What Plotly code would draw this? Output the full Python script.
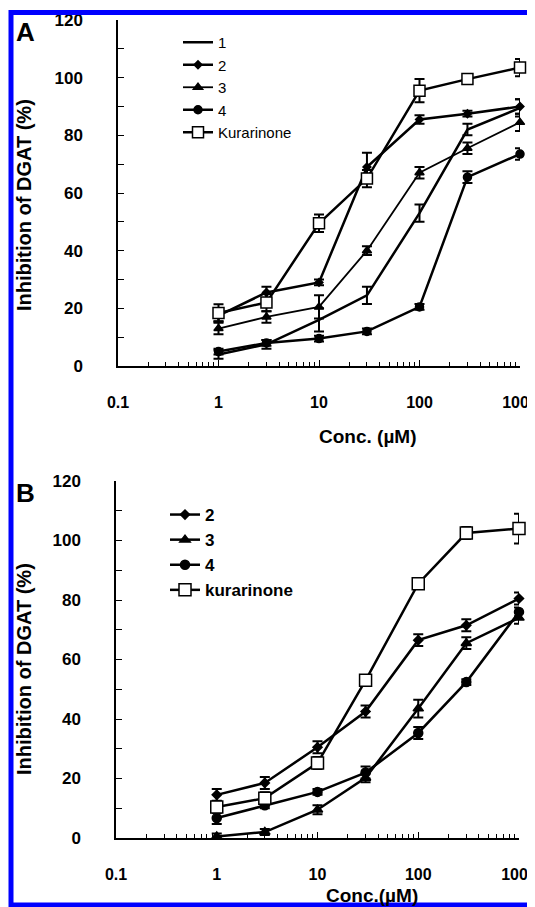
import plotly.graph_objects as go

# ---------------- data ----------------
conc = [1, 3, 10, 30, 100, 300, 1000]
x_tick_vals = [0.1, 1, 10, 100, 1000]
x_tick_text = ["0.1", "1", "10", "100", "1000"]

# Panel A
a_names = ["1", "2", "3", "4", "Kurarinone"]
a_c1 = [4, 7.5, 16, 24.5, 53, 82, 89.5]
a_c1_err = [1.5, 1.5, 4, 3, 3, 2, 3]
a_c2 = [17.5, 25.5, 29, 69, 85.5, 87.5, 90]
a_c2_err = [2, 2, 1, 5, 1.5, 1, 2.5]
a_c3 = [13, 17, 20.5, 40, 67, 75.5, 84.5]
a_c3_err = [2, 2, 4, 1.5, 2, 2, 3]
a_c4 = [5, 8, 9.5, 12, 20.5, 65.5, 73.5]
a_c4_err = [1, 1, 1, 1, 1, 2, 2]
a_kur = [18.4, 22, 49.5, 65, 95.5, 99.5, 103.5]
a_kur_err = [3, 3, 3, 3, 4, 1.5, 3]

# Panel B
b_names = ["2", "3", "4", "kurarinone"]
b_c2 = [14.5, 18.5, 30.5, 42.5, 66.5, 71.5, 80.5]
b_c2_err = [2, 2, 2, 2, 2, 2, 2]
b_c3 = [0.5, 2, 9.5, 20.2, 43.5, 65.5, 74]
b_c3_err = [1, 1, 1.5, 1.5, 3, 2, 2]
b_c4 = [6.7, 11, 15.5, 22, 35.3, 52.4, 76]
b_c4_err = [2, 1, 1, 2, 2, 1, 1.5]
b_kur = [10.4, 13.4, 25.2, 53, 85.5, 102.5, 104]
b_kur_err = [2, 2, 2, 1, 1, 2, 5]

FONT = "Arial, Liberation Sans, sans-serif"

# page body has an 8px margin: the figure is laid out in page pixels minus 8
OFF = 8
W, H = 535 - OFF, 907 - OFF

def px(x):
    return (x - OFF) / W

def py(y):
    return 1 - (y - OFF) / H

fig = go.Figure()

def add(xaxis, yaxis, y, err, name, symbol, msize, lw, legend, open_=False):
    fig.add_trace(go.Scatter(
        x=conc, y=y, name=name, xaxis=xaxis, yaxis=yaxis, legend=legend,
        mode="lines+markers" if symbol else "lines",
        line=dict(color="black", width=lw),
        marker=dict(symbol=symbol or "circle", size=msize,
                    color="white" if open_ else "black",
                    line=dict(color="black", width=1.5)),
        error_y=dict(type="data", array=err, visible=True, color="black",
                     thickness=2, width=5),
        cliponaxis=False,
    ))

# Panel A traces
add("x", "y", a_c1, a_c1_err, a_names[0], None, 0, 2.5, "legend")
add("x", "y", a_c2, a_c2_err, a_names[1], "diamond", 6, 2.5, "legend")
add("x", "y", a_c3, a_c3_err, a_names[2], "triangle-up", 8, 1.8, "legend")
add("x", "y", a_c4, a_c4_err, a_names[3], "circle", 8, 2.5, "legend")
add("x", "y", a_kur, a_kur_err, a_names[4], "square", 11, 2.5, "legend", open_=True)

# Panel B traces
add("x2", "y2", b_c2, b_c2_err, b_names[0], "diamond", 7, 2.5, "legend2")
add("x2", "y2", b_c3, b_c3_err, b_names[1], "triangle-up", 9, 2.5, "legend2")
add("x2", "y2", b_c4, b_c4_err, b_names[2], "circle", 9, 2.5, "legend2")
add("x2", "y2", b_kur, b_kur_err, b_names[3], "square", 12, 2.5, "legend2", open_=True)

minor_vals = [m * 10 ** e for e in range(-1, 3) for m in range(2, 10)]

def xax(domain, anchor):
    return dict(type="log", range=[-1, 3], domain=domain, anchor=anchor,
                automargin=False, ticklabeloverflow="allow",
                showline=True, linecolor="black", linewidth=1.5,
                ticks="inside", ticklen=6, tickcolor="black", tickwidth=1.2,
                tickmode="array", tickvals=x_tick_vals, ticktext=x_tick_text,
                minor=dict(tickmode="array", tickvals=minor_vals, ticks="inside",
                           ticklen=4, tickcolor="black", showgrid=False),
                showgrid=False, zeroline=False,
                tickfont=dict(family=FONT, size=16, color="black", weight="bold"),
                ticklabelstandoff=21)

def yax(domain, anchor):
    return dict(range=[0, 120], domain=domain, anchor=anchor,
                automargin=False, ticklabeloverflow="allow",
                showline=True, linecolor="black", linewidth=1.5,
                ticks="inside", ticklen=6, tickcolor="black", tickwidth=1.2,
                dtick=20, minor=dict(dtick=10, ticks="inside", ticklen=6,
                                     tickcolor="black", showgrid=False),
                showgrid=False, zeroline=False,
                tickfont=dict(family=FONT, size=17, color="black", weight="bold"),
                ticklabelstandoff=30)

fig.update_layout(
    template="none",
    width=W, height=H,
    margin=dict(l=0, r=0, t=0, b=0, pad=0),
    paper_bgcolor="white", plot_bgcolor="white",
    xaxis=xax([px(118), px(520)], "y"),
    yaxis=yax([py(366), py(20)], "x"),
    xaxis2=xax([px(116), px(519)], "y2"),
    yaxis2=yax([py(838), py(481)], "x2"),
    legend=dict(x=px(178), y=py(26), xanchor="left", yanchor="top",
                bgcolor="rgba(0,0,0,0)", font=dict(family=FONT, size=15, color="black"),
                tracegroupgap=0),
    legend2=dict(x=px(165), y=py(497), xanchor="left", yanchor="top",
                 bgcolor="rgba(0,0,0,0)",
                 font=dict(family=FONT, size=17, color="black", weight="bold"),
                 tracegroupgap=0),
    showlegend=True,
)

ann_font = dict(family=FONT, size=19, color="black", weight="bold")
title_font = dict(family=FONT, size=20, color="black", weight="bold")
annotations = [
    dict(text="A", x=px(14), y=py(15), xanchor="left", yanchor="top",
         font=dict(family=FONT, size=26, color="black", weight="bold")),
    dict(text="B", x=px(14), y=py(476), xanchor="left", yanchor="top",
         font=dict(family=FONT, size=26, color="black", weight="bold")),
    dict(text="Inhibition of DGAT (%)", x=px(24), y=py(205), textangle=-90,
         xanchor="center", yanchor="middle", font=title_font),
    dict(text="Inhibition of DGAT (%)", x=px(24), y=py(669), textangle=-90,
         xanchor="center", yanchor="middle", font=title_font),
    dict(text="Conc. (µM)", x=px(368), y=py(437), xanchor="center", yanchor="middle",
         font=ann_font),
    dict(text="Conc.(µM)", x=px(372), y=py(895), xanchor="center", yanchor="middle",
         font=ann_font),
]
for a in annotations:
    a.update(xref="paper", yref="paper", showarrow=False)
fig.update_layout(annotations=annotations)

# blue frame
fig.add_shape(type="rect", xref="paper", yref="paper",
              x0=px(11), x1=px(532), y0=py(905), y1=py(12.5),
              line=dict(color="#0000FF", width=5), layer="above")

fig.write_html("out.html")
